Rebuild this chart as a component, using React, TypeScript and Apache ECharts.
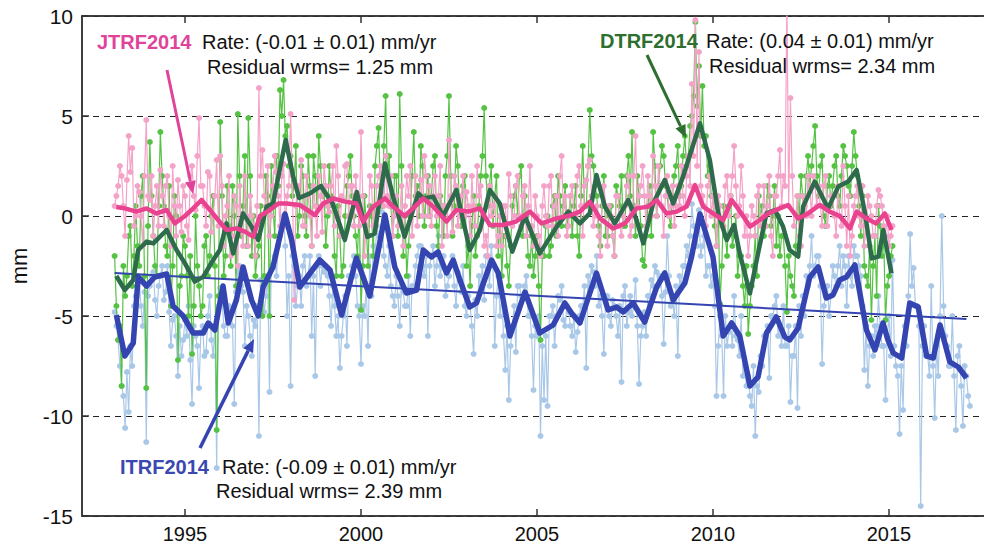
import React, { useEffect, useRef } from "react";
import * as echarts from "echarts";

// ---------- data ----------
// raw residuals are sampled every 0.05 yr: "A" values at 1993.00, 1993.10, ...
// and "B" values at 1993.05, 1993.15, ...
const X_START = 1993.0;
const X_STEP = 0.1;

const xTicks = [1995, 2000, 2005, 2010, 2015];
const yTicks = [-15, -10, -5, 0, 5, 10];

// ITRF2014 raw residuals (light blue)
const itrfRawA = [
  -4.8, -6.2, -8.5, -10.6, -9.8, -7.5, -4.0, -3.2, -5.5, -11.3,
  -3.5, -2.8, -5.0, -3.0, -4.2, -2.5, -6.5, -5.0, -8.0, -7.0,
  -5.2, -4.5, -9.4, -6.0, -8.6, -5.5, -6.8, -4.0, -7.0, -12.6,
  -3.6, -5.5, -6.0, -4.8, -9.4, -2.8, -3.5, -6.5, -5.0, -7.0,
  -5.5, -11.0, -3.5, -4.0, -8.8, -2.5, -3.0, -1.0, 0.0, -5.0,
  -8.5, -2.5, -3.5, -4.5, -2.0, -3.0, -6.0, -8.0, -2.0, -2.5,
  -2.5, -4.0, -3.5, -6.0, -7.6, -5.0, -6.5, -3.0, -2.0, -4.5,
  -7.4, -5.0, -6.5, -4.0, -2.0, -1.0, 0.2, -2.5, -1.5, -4.0,
  -3.0, -5.5, -3.8, -4.5, -6.0, -3.5, -2.0, -1.5, -3.0, -6.0,
  -2.0, -3.5, -1.0, -2.5, -4.0, -3.0, -2.0, -4.5, -3.2, -2.5,
  -5.0, -4.5, -6.9, -5.0, -3.5, -4.2, -2.0, -1.5, -6.5, -3.0,
  -4.0, -7.7, -9.2, -5.5, -6.8, -3.5, -4.0, -3.0, -5.0, -8.7,
  -6.0, -11.0, -9.2, -9.5, -5.0, -6.5, -4.0, -3.5, -5.5, -4.8,
  -6.0, -6.8, -5.0, -4.5, -7.6, -3.5, -2.8, -2.0, -4.0, -6.9,
  -4.0, -5.5, -4.5, -6.0, -8.3, -3.5, -4.8, -5.0, -3.2, -8.4,
  -5.5, -6.0, -4.0, -3.5, -2.8, -3.0, -6.4, -1.0, -4.5, -5.0,
  -7.0, -3.5, -2.5, -2.0, 0.6, -1.0, 0.3, -1.5, -3.0, -2.5,
  -3.0, -9.0, -5.0, -9.0, -6.5, -5.5, -4.0, -6.2, -5.0, -7.5,
  -8.0, -9.5, -11.0, -8.8, -7.5, -6.0, -8.1, -5.0, -4.0, -5.5,
  -4.5, -6.5, -9.3, -7.0, -9.6, -6.0, -5.0, -3.5, -1.0, -2.5,
  -2.0, -7.4, -4.0, -5.0, -2.5, -3.5, -1.5, -2.0, -4.5, -3.0,
  -1.5, -2.0, -3.0, -7.7, -8.5, -6.0, -5.5, -4.0, -6.5, -9.2,
  -5.0, -2.2, -7.5, -10.9, -9.7, -6.5, -0.9, -2.6, -4.5, -14.5,
  -5.5, -7.0, -3.5, -10.1, -8.0, 0.0, -6.0, -7.5, -5.0, -10.7,
  -6.5, -10.5, -8.0, -9.5,
];
const itrfRawB = [
  -5.5, -7.5, -9.0, -7.8, -6.5, -4.5, -3.0, -4.5, -3.8, -4.0,
  -3.0, -4.2, -3.5, -2.5, -3.8, -4.8, -5.2, -6.0, -5.5, -6.2,
  -6.0, -7.2, -5.5, -6.5, -5.8, -7.0, -5.0, -6.2, -5.5, -4.5,
  -4.0, -6.0, -4.5, -5.5, -3.8, -2.5, -3.8, -4.5, -6.0, -5.2,
  -4.5, -3.2, -4.8, -3.0, -2.5, -2.0, -1.5, -0.5, -1.5, -3.0,
  -2.0, -4.5, -3.0, -2.5, -3.5, -2.0, -3.0, -2.5, -3.5, -2.8,
  -3.0, -5.5, -4.5, -5.0, -6.0, -4.0, -3.0, -2.5, -3.0, -5.0,
  -4.5, -3.5, -2.0, -1.5, -0.5, -1.5, -2.0, -3.0, -3.5, -4.5,
  -4.0, -3.5, -4.5, -3.0, -3.5, -2.5, -1.5, -2.5, -2.0, -2.5,
  -1.5, -2.5, -3.0, -2.0, -3.5, -2.5, -3.5, -2.8, -3.8, -4.5,
  -4.0, -5.5, -4.2, -3.0, -2.5, -2.0, -3.5, -2.5, -4.0, -5.0,
  -6.0, -5.5, -6.5, -4.5, -3.5, -4.0, -3.5, -5.0, -6.0, -5.5,
  -5.0, -6.5, -6.0, -5.0, -4.5, -5.0, -4.2, -5.2, -4.5, -5.5,
  -5.0, -5.8, -4.5, -3.5, -3.0, -2.5, -3.5, -4.5, -5.0, -4.0,
  -5.0, -4.2, -5.0, -4.5, -4.0, -5.5, -4.0, -4.5, -5.5, -6.0,
  -4.8, -4.0, -3.2, -2.5, -3.5, -4.0, -3.8, -3.0, -4.2, -3.5,
  -3.0, -2.5, -1.5, -1.0, -0.5, -1.5, -2.0, -1.0, -2.5, -3.5,
  -4.5, -6.5, -6.0, -5.0, -5.8, -6.5, -6.0, -7.0, -8.0, -8.5,
  -9.0, -7.5, -8.5, -7.0, -6.0, -5.5, -5.0, -4.5, -6.0, -6.5,
  -6.5, -5.5, -7.0, -5.5, -4.5, -4.0, -3.0, -2.5, -3.0, -2.0,
  -3.5, -4.5, -3.5, -4.0, -3.0, -2.5, -3.5, -2.5, -2.0, -3.5,
  -2.0, -2.5, -4.5, -5.5, -6.5, -7.0, -6.0, -5.5, -6.5, -6.0,
  -7.0, -6.5, -8.0, -7.5, -5.5, -4.0, -3.5, -4.5, -5.5, -6.5,
  -7.0, -8.0, -7.5, -6.5, -5.0, -4.5, -6.5, -7.5, -8.0, -7.0,
  -8.5, -7.5, -9.0,
];

// JTRF2014 raw residuals (pink)
const jtrfRawA = [
  0.5, 1.5, 2.0, -1.0, 4.0, 3.4, 0.0, 1.2, -1.5, 4.8,
  0.8, -1.0, 1.5, 2.3, -0.5, 2.0, -1.5, 0.5, 1.8, -0.8,
  1.0, -1.2, 2.5, 0.3, 4.9, 1.5, -0.5, 2.0, 0.0, 2.8,
  3.0, -1.5, 0.5, -2.0, 1.0, -2.5, -0.8, 2.0, -1.5, 0.0,
  -2.0, 6.4, 3.3, 0.5, -1.0, 1.5, 2.2, -0.5, 2.6, 1.0,
  5.1, -4.2, 1.5, 2.8, -0.5, 1.0, -1.5, 0.5, 2.0, -0.8,
  1.5, 0.2, 2.5, 3.5, -1.0, 0.8, 2.6, 1.5, -0.5, 0.5,
  4.2, -2.0, -1.0, 1.5, 0.0, 2.0, 1.2, 3.0, 0.5, -1.0,
  1.0, 0.0, -1.5, 2.0, 2.5, 0.5, -0.5, 1.8, 3.0, 0.0,
  -0.5, 2.0, 1.0, -1.5, 0.5, 3.8, -0.8, 1.5, 0.0, 2.0,
  1.2, -1.0, 0.5, 2.5, 1.5, -1.5, -2.0, 0.0, 1.0, -1.0,
  -1.5, 0.5, 2.1, -0.5, 1.5, 0.0, 1.0, -1.0, 2.5, -1.5,
  0.0, -2.0, 1.5, -0.5, 2.0, 0.5, -1.0, 3.0, 1.0, -0.5,
  1.5, 0.0, 2.5, -1.0, 1.8, 2.8, -0.5, 0.5, -2.0, 1.5,
  -1.5, 0.0, -2.0, 1.0, -1.0, 0.5, 2.0, -0.5, 4.0, 1.0,
  2.5, -0.5, 1.0, 3.0, 0.0, 1.5, -1.0, 2.0, 0.5, -0.5,
  1.5, 2.5, 0.0, 3.0, 6.6, 9.8, 8.2, 1.0, -0.5, 2.0,
  1.0, -1.5, 0.5, -0.5, 2.0, 1.0, 3.5, 0.0, 2.5, -1.0,
  -2.0, 0.5, -1.0, 1.5, 0.0, -0.5, 2.0, -2.0, 1.0, 3.3,
  2.0, 11.0, 5.9, -0.5, 1.0, -1.5, 0.5, 2.0, 0.0, 1.5,
  1.5, -0.5, 2.0, 0.5, 1.0, -1.0, 0.0, 2.5, -1.5, -2.0,
  0.5, 1.5, -0.5, -1.5, 1.0, 0.0, -1.0, 1.3, 0.5, -1.0,
  -1.5, -0.5,
];
const jtrfRawB = [
  1.0, 2.5, 0.5, 1.8, 2.2, -0.5, 1.5, 0.0, 2.0, 1.0,
  2.0, 0.5, -0.5, 1.0, 1.5, 0.0, 2.5, -1.0, 0.5, 1.5,
  -0.5, 2.0, 1.0, 3.0, 1.5, 0.5, 2.2, -0.8, 1.0, -0.5,
  1.5, 0.0, 2.0, -1.0, 0.5, 1.5, -1.5, 0.0, 1.0, -0.5,
  0.5, 2.0, 1.0, 2.5, 0.0, 3.0, 1.0, 2.0, -0.5, 1.5,
  2.0, 0.5, 1.0, -0.5, 2.0, 0.0, 1.5, -1.0, 1.0, 2.5,
  0.5, 1.5, -0.5, 2.0, 1.0, 2.5, 0.0, 1.5, 2.0, -0.5,
  1.0, 0.0, 2.0, -0.5, 1.5, 2.5, 0.5, 1.0, 2.0, 0.0,
  -0.5, 1.5, 0.5, 1.0, -1.0, 2.0, 1.0, 0.0, 2.0, 1.5,
  1.0, 0.0, 2.5, 0.5, -1.0, 1.0, 2.0, -0.5, 1.0, 0.0,
  0.5, 2.0, -0.5, 1.0, 0.0, -1.0, 1.5, 0.5, -1.5, 0.0,
  0.5, -1.0, 1.0, 0.0, 2.0, -0.5, 1.5, 0.5, -0.5, 1.0,
  -1.0, 0.5, 0.0, 1.5, -0.5, 1.0, 2.0, 0.0, -1.0, 1.0,
  0.0, 2.0, 0.5, 1.5, 2.5, 1.0, 0.0, -1.0, 1.0, 0.5,
  0.5, -1.0, 1.0, -0.5, 0.0, 1.5, -1.0, 2.0, 0.5, 1.5,
  1.0, 2.0, 0.0, 1.5, 2.5, 0.5, 1.0, 0.0, 1.5, 0.5,
  0.5, 1.0, 2.0, 1.5, 3.0, 2.5, 1.5, 0.5, 1.5, 0.0,
  0.5, 1.0, -0.5, 1.5, 0.0, 2.0, 1.5, 0.5, 1.0, 0.0,
  -1.0, 0.0, 1.0, -0.5, 1.5, 0.5, -1.0, 1.0, 2.0, 0.5,
  1.5, 0.5, 2.0, 0.0, -1.0, 1.0, 0.0, 1.5, 2.0, 0.5,
  0.5, 1.5, -0.5, 1.0, 0.0, 1.5, -0.5, 0.5, 1.0, -1.0,
  1.0, 0.0, 1.5, -0.5, 0.5, -1.0, 0.5, 1.0, -0.5, 0.0,
  -1.0,
];

// DTRF2014 raw residuals (green)
const dtrfRawA = [
  -2.0, -6.2, -8.5, -4.0, -1.0, -3.5, 0.5, -2.5, 2.0, -8.6,
  3.7, -1.0, -3.0, 4.2, 0.5, -2.0, -4.5, 1.0, -7.2, -3.0,
  -1.5, -5.0, -6.9, 0.0, -3.5, -4.5, -1.0, -2.0, 1.0, -10.7,
  4.7, -3.0, 1.5, -2.5, 0.0, 5.1, -1.0, 3.0, 4.9, -2.0,
  -3.0, -1.5, -5.0, 2.0, -5.0, 0.5, 3.0, 6.3, 6.8, 4.5,
  3.0, 1.5, -1.0, 2.5, 0.0, 3.0, -1.5, 2.0, 4.0, 1.0,
  -1.5, 2.5, 0.5, -3.0, -1.0, -2.5, 1.5, 3.0, 0.0, -2.0,
  -4.7, 1.0, -2.5, 0.0, 2.5, 4.4, 0.5, 6.0, 3.0, -1.0,
  2.0, 6.1, -2.0, -3.0, 0.0, 4.2, 1.5, 3.5, -0.5, 2.0,
  1.0, 3.0, -1.5, 0.5, 2.0, 6.0, -1.0, 3.5, 0.5, 1.5,
  -2.5, -3.5, 1.0, -1.0, 2.0, 5.4, 0.5, 2.5, 1.0, -2.0,
  -3.0, -1.0, -3.5, 0.5, 1.5, 2.0, -1.0, 0.0, -2.5, -3.0,
  -1.0, -6.2, -2.0, 0.0, -1.5, 1.0, 2.0, -0.5, 1.5, 0.0,
  -1.0, 1.5, -2.0, 3.5, 0.5, 5.3, 2.5, 1.0, -1.5, 2.0,
  -1.0, 0.5, -2.0, 1.0, 2.0, -0.5, 3.0, 4.2, -1.0, 1.0,
  -2.2, -1.0, 1.5, 4.2, 0.0, 2.5, 3.0, 1.0, -0.5, 2.0,
  3.5, 1.5, 4.0, 3.0, 5.0, 9.7, 7.5, 6.5, 4.0, 2.5,
  1.0, -1.5, -4.4, 0.5, -2.0, 1.0, -1.0, -3.0, -2.0, -4.5,
  -5.9, -3.5, -1.0, 1.0, 0.5, -0.5, 1.0, 0.0, -1.5, -2.0,
  -1.0, -4.8, -3.0, -4.0, 1.0, 2.0, 0.5, 3.0, 2.5, 4.5,
  1.0, 3.0, -0.5, 2.0, 1.5, 3.0, 0.5, 3.5, 2.5, 1.0,
  4.2, 2.0, -1.0, -2.5, -3.5, -5.2, -1.0, 0.5, -2.0, -5.2,
  -3.0, -1.5,
];
const dtrfRawB = [
  -4.5, -5.5, -2.5, -3.0, -0.5, -2.0, -1.5, 1.0, -3.0, -0.5,
  1.0, -2.5, 0.5, 2.0, -1.5, 1.5, -2.5, 0.0, -3.5, -1.0,
  -3.0, -2.0, -4.5, -2.5, -5.0, -1.5, -3.0, 0.0, -2.5, -4.0,
  1.0, -2.0, -0.5, 1.5, -3.5, 2.0, 0.5, -1.5, 2.0, 0.0,
  -2.0, 0.5, -3.0, 1.0, 2.5, -1.0, 1.5, 5.0, 4.0, 2.5,
  1.0, 3.5, 0.0, 2.0, -1.0, 1.5, 3.0, 0.5, 2.5, 1.5,
  0.0, 1.0, -2.0, 0.5, -3.0, 0.0, 2.0, 1.0, -1.0, 0.5,
  -2.5, -0.5, 0.5, -2.0, 3.5, 1.5, 3.5, 2.0, 0.5, 2.0,
  -1.0, 2.5, 0.0, -1.5, 2.0, 1.0, 0.0, 2.5, 1.0, 0.0,
  2.5, -0.5, 1.0, -1.0, 3.0, 2.0, 0.5, 2.5, -0.5, 2.0,
  -1.5, -0.5, -2.0, 0.5, 3.0, 2.0, 1.5, -0.5, 2.0, 0.0,
  -1.0, -2.5, -1.5, 1.0, 0.0, 2.5, 1.0, -2.0, -1.0, -2.0,
  -3.5, -2.0, -0.5, -2.0, 0.5, -1.0, 1.0, 0.5, -0.5, 1.0,
  0.5, -1.0, 1.0, 0.5, 2.5, 3.0, 1.5, -0.5, 0.5, -1.0,
  0.0, -1.0, 1.5, 0.5, -0.5, 2.0, 1.0, 0.5, 2.0, -0.5,
  -2.5, 0.5, -1.0, 2.5, 1.5, 3.5, 1.5, 0.0, 1.0, 2.5,
  1.0, 3.0, 2.5, 4.5, 6.0, 5.5, 4.0, 3.5, 2.0, 1.0,
  -0.5, 0.5, -2.5, -1.0, 0.5, -1.5, 0.0, -2.0, -3.5, -2.5,
  -4.5, -2.5, -3.0, 0.0, -1.0, 1.5, -0.5, 1.5, 0.0, -1.0,
  -2.5, -2.0, -3.5, -1.5, 0.0, 1.0, 2.0, 1.5, 3.5, 2.0,
  2.5, 0.0, 1.5, 0.5, 2.5, 1.0, 2.0, 3.0, 1.5, 2.5,
  3.0, 0.5, 1.0, -3.0, -1.5, -2.5, -4.0, -0.5, -1.0, -3.5,
  -2.0,
];

// smoothed curves
const itrfSmoothYears = [
  1993.05, 1993.29, 1993.53, 1993.67, 1993.91, 1994.14, 1994.48, 1994.66, 1994.95, 1995.23,
  1995.52, 1995.66, 1995.85, 1996.08, 1996.23, 1996.46, 1996.65, 1996.89, 1997.08, 1997.22,
  1997.5, 1997.84, 1998.03, 1998.26, 1998.83, 1999.12, 1999.45, 1999.87, 2000.25, 2000.68,
  2000.96, 2001.29, 2001.58, 2001.77, 2002.0, 2002.19, 2002.43, 2002.62, 2002.81, 2003.09,
  2003.28, 2003.71, 2003.9, 2004.23, 2004.66, 2005.08, 2005.46, 2005.79, 2005.98, 2006.22,
  2006.69, 2007.02, 2007.26, 2007.45, 2007.73, 2008.06, 2008.4, 2008.63, 2008.87, 2009.2,
  2009.39, 2009.63, 2010.0, 2010.29, 2010.53, 2010.76, 2011.05, 2011.28, 2011.52, 2011.8,
  2012.04, 2012.18, 2012.42, 2012.75, 2012.99, 2013.22, 2013.41, 2013.6, 2013.79, 2014.03,
  2014.36, 2014.6, 2014.83, 2014.97, 2015.12, 2015.36, 2015.59, 2015.83, 2016.07, 2016.26,
  2016.45, 2016.73, 2016.97, 2017.2,
];
const itrfSmoothVals = [
  -4.95, -7.0, -6.35, -3.05, -3.5, -3.05, -2.9, -4.5, -5.0, -5.85,
  -5.85, -5.35, -5.7, -3.5, -5.35, -4.2, -2.55, -4.2, -5.0, -3.55,
  -2.55, 0.1, -1.2, -3.55, -2.2, -2.7, -4.95, -2.1, -4.0, 0.05,
  -2.55, -3.85, -3.7, -1.7, -2.05, -1.8, -2.85, -2.2, -3.2, -4.55,
  -4.35, -2.2, -2.85, -6.0, -3.8, -5.85, -5.45, -4.35, -4.85, -5.35,
  -2.85, -4.7, -4.55, -4.8, -4.35, -5.3, -3.55, -2.85, -4.2, -3.35,
  -2.05, 0.1, -2.05, -6.0, -5.35, -6.0, -8.5, -8.05, -5.85, -5.05,
  -6.05, -6.2, -5.6, -3.05, -2.55, -4.1, -3.95, -3.2, -3.05, -2.45,
  -5.7, -6.7, -5.35, -6.2, -6.85, -7.1, -4.35, -4.55, -7.0, -7.1,
  -5.45, -7.3, -7.55, -8.1,
];

const jtrfSmoothYears = [
  1993.05, 1993.29, 1993.62, 1993.91, 1994.19, 1994.48, 1994.71, 1995.0, 1995.23, 1995.47,
  1995.71, 1995.94, 1996.18, 1996.46, 1996.7, 1996.94, 1997.13, 1997.41, 1997.65, 1997.88,
  1998.26, 1998.69, 1998.93, 1999.21, 1999.54, 1999.87, 2000.06, 2000.35, 2000.68, 2000.91,
  2001.24, 2001.53, 2001.77, 2002.05, 2002.43, 2002.71, 2003.04, 2003.38, 2003.66, 2004.04,
  2004.4, 2004.8, 2005.13, 2005.56, 2005.89, 2006.22, 2006.5, 2006.79, 2007.16, 2007.5,
  2007.83, 2008.16, 2008.4, 2008.68, 2008.97, 2009.25, 2009.49, 2009.72, 2010.0, 2010.29,
  2010.53, 2010.76, 2011.05, 2011.33, 2011.57, 2011.9, 2012.13, 2012.42, 2012.7, 2013.03,
  2013.32, 2013.6, 2013.89, 2014.08, 2014.36, 2014.64, 2014.88, 2015.07,
];
const jtrfSmoothVals = [
  0.45, 0.38, 0.22, 0.38, 0.13, 0.3, -0.37, 0.0, 0.38, 0.8,
  0.3, -0.2, -0.7, -0.62, -0.78, -1.03, 0.0, 0.3, 0.63, 0.63,
  0.55, 0.05, 0.63, 0.88, 0.72, 0.63, -0.28, 0.47, 0.88, 0.47,
  0.0, 0.47, 0.88, 0.47, -0.28, 0.3, 0.22, 0.38, -0.45, -0.45,
  -0.28, 0.22, -0.37, -0.12, 0.0, 0.22, 0.72, -0.12, -0.62, -0.37,
  0.38, 0.47, 0.8, 0.13, 0.22, 0.47, 1.55, 0.47, 0.13, -0.2,
  0.8, 0.25, -0.53, -0.2, 0.13, 0.38, 0.55, -0.12, 0.13, 0.55,
  0.22, 0.0, -0.62, 0.22, -0.12, -0.37, 0.13, -0.7,
];

const dtrfSmoothYears = [
  1993.05, 1993.29, 1993.53, 1993.67, 1993.91, 1994.1, 1994.48, 1994.76, 1995.0, 1995.28,
  1995.52, 1995.8, 1995.99, 1996.18, 1996.37, 1996.65, 1996.89, 1997.08, 1997.32, 1997.5,
  1997.86, 1998.07, 1998.24, 1998.55, 1998.86, 1999.2, 1999.54, 1999.88, 2000.18, 2000.39,
  2000.68, 2000.91, 2001.24, 2001.63, 2001.77, 2002.05, 2002.33, 2002.71, 2003.09, 2003.38,
  2003.66, 2003.94, 2004.3, 2004.66, 2005.08, 2005.56, 2005.89, 2006.22, 2006.5, 2006.69,
  2006.93, 2007.21, 2007.59, 2007.83, 2008.02, 2008.3, 2008.63, 2008.87, 2009.15, 2009.39,
  2009.63, 2009.91, 2010.15, 2010.39, 2010.6, 2010.76, 2011.05, 2011.28, 2011.52, 2011.76,
  2011.99, 2012.18, 2012.42, 2012.56, 2012.89, 2013.27, 2013.56, 2013.84, 2014.08, 2014.32,
  2014.51, 2014.7, 2014.84, 2015.07,
];
const dtrfSmoothVals = [
  -3.0, -3.7, -3.2, -1.7, -1.28, -1.37, -0.7, -1.7, -2.37, -3.28,
  -3.03, -2.2, -1.7, -0.37, -1.87, 0.13, -0.53, -1.2, 0.47, 0.63,
  3.8, 2.0, 0.9, 1.13, 1.5, 0.6, -1.2, 1.2, -1.05, -0.87,
  2.63, 0.97, -1.03, 1.13, 0.88, 0.97, 0.0, 1.3, -1.7, -0.7,
  1.3, 0.63, -1.78, 0.0, -1.87, -0.53, 0.22, -0.37, 0.13, 2.05,
  0.47, -0.37, 0.8, -0.2, -1.37, 0.63, 1.8, 0.63, 1.97, 3.3,
  4.63, 2.8, 0.13, -1.2, -0.45, -1.87, -3.87, -1.87, 0.13, 0.3,
  -0.53, -1.7, -2.03, 0.47, 1.72, 0.38, 1.47, 1.72, 2.3, 0.13,
  -2.12, -2.03, -0.7, -2.87,
];

// ITRF2014 linear trend
const trendYears = [1993.0, 2017.2];
const trendVals = [-2.85, -5.15];

// ---------- helpers ----------
const FONT = '"Liberation Sans", Arial, Helvetica, sans-serif';
const X_MIN = 1992.074;
const X_MAX = 2017.756;

// merge the two sample sets into one time-ordered series
const merged = (a: number[], b: number[]) => {
  const out: number[][] = [];
  for (let i = 0; i < a.length; i++) {
    out.push([+(X_START + i * X_STEP).toFixed(3), a[i]]);
    if (i < b.length) out.push([+(X_START + X_STEP / 2 + i * X_STEP).toFixed(3), b[i]]);
  }
  return out;
};
const pairs = (xs: number[], ys: number[]) => xs.map((x, i) => [x, ys[i]]);

function arrow(x1: number, y1: number, x2: number, y2: number, color: string, w: number) {
  const ang = Math.atan2(y2 - y1, x2 - x1);
  const L = 13;
  const W = 5.5;
  const bx = x2 - L * Math.cos(ang);
  const by = y2 - L * Math.sin(ang);
  const px = -Math.sin(ang) * W;
  const py = Math.cos(ang) * W;
  return [
    { type: "line", shape: { x1, y1, x2: bx, y2: by }, style: { stroke: color, lineWidth: w }, z: 100 },
    {
      type: "polygon",
      shape: { points: [[x2, y2], [bx + px, by + py], [bx - px, by - py]] },
      style: { fill: color },
      z: 100,
    },
  ];
}

function label(x: number, y: number, text: string, color: string, bold = false) {
  return {
    type: "text",
    x,
    y,
    z: 100,
    style: {
      text,
      fill: color,
      font: `${bold ? "bold " : ""}20px ${FONT}`,
      verticalAlign: "middle",
      align: "left",
    },
  };
}

export default function App() {
  const ref = useRef<HTMLDivElement>(null);

  useEffect(() => {
    if (!ref.current) return;
    const chart = echarts.init(ref.current, undefined, { renderer: "svg" });

    const noisy = (name: string, a: number[], b: number[], color: string, z: number) => ({
      name,
      type: "line",
      z,
      data: merged(a, b),
      symbol: "circle",
      symbolSize: 6,
      showSymbol: true,
      showAllSymbol: true,
      clip: true,
      lineStyle: { color, width: 1.2 },
      itemStyle: { color },
      silent: true,
    });
    const smooth = (name: string, xs: number[], ys: number[], color: string, w: number, z: number) => ({
      name,
      type: "line",
      z,
      data: pairs(xs, ys),
      symbol: "none",
      clip: true,
      lineStyle: { color, width: w, join: "round" },
      silent: true,
    });

    const axisLineStyle = { color: "#333", width: 1.5 };

    chart.setOption({
      animation: false,
      backgroundColor: "#ffffff",
      grid: {
        left: 82,
        right: -2,
        top: 16,
        bottom: 29,
        containLabel: false,
        outerBoundsMode: "none",
        show: true,
        borderColor: "#333",
        borderWidth: 1.5,
        backgroundColor: "transparent",
      },
      xAxis: [
        {
          type: "value",
          min: X_MIN,
          max: X_MAX,
          position: "bottom",
          axisLine: { show: true, onZero: false, lineStyle: axisLineStyle },
          axisTick: { show: true, inside: true, length: 7, customValues: xTicks, lineStyle: axisLineStyle },
          axisLabel: {
            customValues: xTicks,
            fontSize: 20,
            lineHeight: 20,
            color: "#111",
            margin: 8,
            fontFamily: FONT,
            formatter: (v: number) => String(Math.round(v)),
          },
          splitLine: { show: false },
        },
        {
          type: "value",
          min: X_MIN,
          max: X_MAX,
          position: "top",
          axisLine: { show: true, onZero: false, lineStyle: axisLineStyle },
          axisTick: { show: true, inside: true, length: 7, customValues: xTicks, lineStyle: axisLineStyle },
          axisLabel: { show: false },
          splitLine: { show: false },
        },
      ],
      yAxis: {
        type: "value",
        min: yTicks[0],
        max: yTicks[yTicks.length - 1],
        interval: 5,
        position: "left",
        axisLine: { show: true, onZero: false, lineStyle: axisLineStyle },
        axisTick: { show: true, inside: true, length: 7, lineStyle: axisLineStyle },
        axisLabel: { fontSize: 21, color: "#111", margin: 9, fontFamily: FONT },
        splitLine: { show: true, lineStyle: { type: [6, 5], color: "#222", width: 1.2 } },
        name: "mm",
        nameLocation: "middle",
        nameGap: 52,
        nameTextStyle: { fontSize: 22, color: "#111", fontFamily: FONT },
      },
      series: [
        noisy("ITRF2014 raw", itrfRawA, itrfRawB, "#a9c8e8", 2),
        noisy("DTRF2014 raw", dtrfRawA, dtrfRawB, "#55c244", 3),
        noisy("JTRF2014 raw", jtrfRawA, jtrfRawB, "#f4a3c8", 4),
        smooth("ITRF2014 trend", trendYears, trendVals, "#3444b0", 2, 6),
        smooth("DTRF2014 smooth", dtrfSmoothYears, dtrfSmoothVals, "#2d6b4c", 4.5, 7),
        smooth("JTRF2014 smooth", jtrfSmoothYears, jtrfSmoothVals, "#e9428e", 4.5, 8),
        smooth("ITRF2014 smooth", itrfSmoothYears, itrfSmoothVals, "#3444b0", 5.5, 9),
      ],
      graphic: [
        label(97, 42, "JTRF2014", "#e0449a", true),
        label(202, 42, "Rate: (-0.01 ± 0.01) mm/yr", "#111"),
        label(207, 67, "Residual wrms= 1.25 mm", "#111"),
        label(600, 41, "DTRF2014", "#2e6e2e", true),
        label(706, 41, "Rate: (0.04 ± 0.01) mm/yr", "#111"),
        label(709, 66, "Residual wrms= 2.34 mm", "#111"),
        label(120, 467, "ITRF2014", "#3a48b0", true),
        label(222, 467, "Rate: (-0.09 ± 0.01) mm/yr", "#111"),
        label(216, 491, "Residual wrms= 2.39 mm", "#111"),
        ...arrow(167, 70, 193, 194, "#e0449a", 3),
        ...arrow(647, 55, 686, 138, "#2e6e2e", 3),
        ...arrow(200, 448, 254, 339, "#3444b0", 3.5),
      ],
    });

    return () => chart.dispose();
  }, []);

  return (
    <div
      ref={ref}
      style={{ position: "fixed", left: 0, top: 0, width: 984, height: 545, background: "#fff" }}
    />
  );
}
